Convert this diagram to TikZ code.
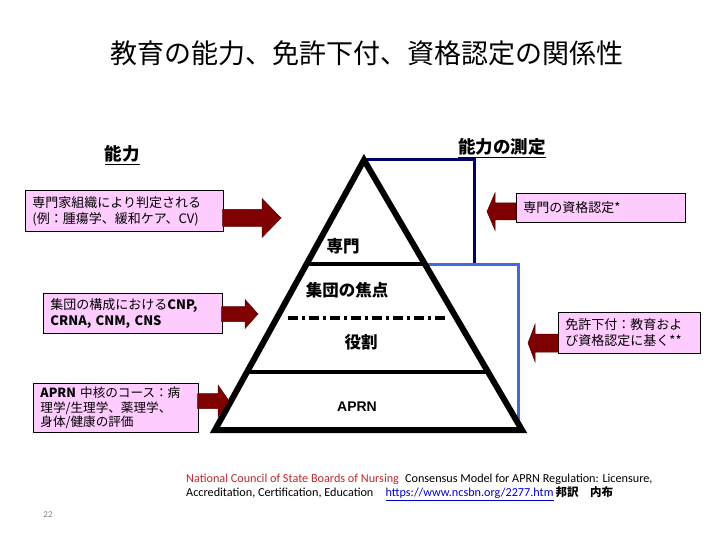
\documentclass[tikz,border=0pt]{standalone}
\usepackage{fontspec}
\setmainfont{Carlito}
\newfontfamily\jp{Noto Sans CJK JP}
\newfontfamily\arialf{Liberation Sans}
\definecolor{boxpink}{HTML}{FFCCFF}
\definecolor{arrowred}{HTML}{7F0000}
\definecolor{navyline}{HTML}{000066}
\definecolor{blueline}{HTML}{4169E1}
\definecolor{ncred}{HTML}{C0282D}
\definecolor{linkblue}{HTML}{0000CC}
\newcommand\myarrowR[6]{% x0 xh x1 c s h
  \fill[arrowred,draw=arrowred!70!black,line width=0.5pt] (#1,#4-#5) -- (#2,#4-#5) -- (#2,#4-#6) -- (#3,#4) -- (#2,#4+#6) -- (#2,#4+#5) -- (#1,#4+#5) -- cycle;}
\tikzset{
  pbox/.style={draw=black, line width=0.9pt, fill=boxpink, anchor=north west,
    inner xsep=7pt, inner ysep=2pt, align=left,
    font=\jp\fontsize{13}{16}\selectfont},
  heading/.style={font=\jp\bfseries\fontsize{17.5}{20}\selectfont, inner sep=1pt},
  tlabel/.style={font=\jp\bfseries\fontsize{16.5}{19}\selectfont, inner sep=1pt},
  foot/.style={anchor=west, inner sep=0, font=\fontsize{12.2}{14}\selectfont},
}
\begin{document}
\begin{tikzpicture}[x=1pt,y=-1pt]
\useasboundingbox (0,0) rectangle (720,540);
\fill[white] (0,0) rectangle (720,540);

% title
\node[font=\jp\fontsize{27}{31}\selectfont, inner sep=0] (title) at (367,53) {教育の能力、免許下付、資格認定の関係性};

% headings
\node[heading] (hl) at (122,155) {\underline{能力}};
\node[heading] (hr) at (502,148) {\underline{能力の測定}};

% pyramid coordinates
\coordinate (apex) at (364,160);
\coordinate (bl) at (215,430);
\coordinate (br) at (522,430);
\coordinate (l1a) at (306.6,264);
\coordinate (l1b) at (424.9,264);
\coordinate (dla) at (288,318);
\coordinate (dlb) at (447,318);
\coordinate (l3a) at (247,372);
\coordinate (l3b) at (488,372);
\coordinate (nv1) at (474,160);
\coordinate (nv2) at (474,264);
\coordinate (bv1) at (518,264);
\coordinate (bv2) at (518,428);

% navy and blue measurement lines
\draw[navyline, line width=3pt] (apex) -- (nv1) -- (nv2);
\draw[blueline, line width=3pt] (l1b) -- (bv1) -- (bv2);

% inner lines
\draw[black, line width=3.5pt] (l1a) -- (l1b);
\draw[black, line width=3.5pt, dash pattern=on 10pt off 4pt on 3pt off 4pt] (dla) -- (dlb);
\draw[black, line width=3.5pt] (l3a) -- (l3b);

% triangle
\draw[black, line width=6pt, line join=miter] (apex) -- (br) -- (bl) -- cycle;

% pyramid labels
\node[tlabel] (sp) at (343,246) {専門};
\node[tlabel] (gf) at (347,290) {集団の焦点};
\node[tlabel] (role) at (361,342) {役割};
\node[font=\arialf\bfseries\fontsize{14}{16}\selectfont, inner sep=1pt] (aprn) at (357,407) {APRN};

% left boxes
\node[pbox, minimum width=198, minimum height=41, text width=184] (b1) at (25,190) {専門家組織により判定される\\(例：腫瘍学、緩和ケア、CV)};
\node[pbox, minimum width=179, minimum height=40, text width=165] (b3) at (43,293) {集団の構成における\textbf{CNP,}\\\textbf{CRNA, CNM, CNS}};
\node[pbox, minimum width=165, minimum height=49, text width=151, font=\jp\fontsize{12.6}{14.8}\selectfont] (b4) at (33,383) {\textbf{APRN} 中核のコース：病\\理学/生理学、薬理学、\\身体/健康の評価};

% right boxes
\node[pbox, minimum width=169, minimum height=29, text width=155] (b2) at (516,193) {専門の資格認定*};
\node[pbox, minimum width=142, minimum height=41, text width=128] (b5) at (558,312) {免許下付：教育およ\\び資格認定に基く**};

% block arrows
\myarrowR{222.6}{262}{281}{218}{8.5}{19.5}
\myarrowR{221.6}{245}{258}{314}{7.5}{14.5}
\myarrowR{197.6}{218}{229}{401}{7.5}{16}
\myarrowR{516}{495}{487}{211.5}{8.5}{18.5}
\myarrowR{558}{535}{528}{343}{9}{18.5}

% footer
\node[foot] (f1) at (186,479) {\textcolor{ncred}{National Council of State Boards of Nursing}\hspace{0.5em}Consensus Model for APRN Regulation: Licensure,};
\node[foot] (f2) at (186,494) {Accreditation, Certification, Education\hspace{1em}\textcolor{linkblue}{\underline{https://www.ncsbn.org/2277.htm}}\,{\jp\bfseries\fontsize{11.5}{14}\selectfont 邦訳　内布}};

\node[text=gray, font=\fontsize{9}{10}\selectfont, inner sep=0] (pg) at (48,515) {22};
\end{tikzpicture}
\end{document}
